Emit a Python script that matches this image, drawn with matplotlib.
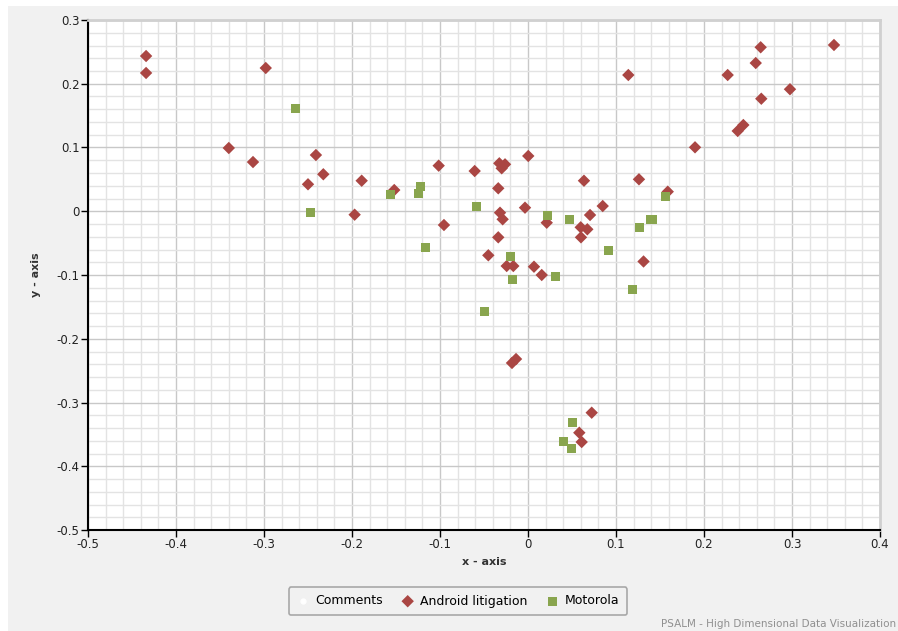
import numpy as np
import matplotlib
import matplotlib.pyplot as plt
from matplotlib.patches import Rectangle
from matplotlib.ticker import MultipleLocator

matplotlib.use("Agg")

# 2D projection coordinates per series
android_x = [-0.434, -0.434, -0.298, -0.340, -0.3125, -0.241, -0.250, -0.2326,
             -0.189, -0.197, -0.152, -0.1015, -0.0955, -0.0606, -0.0326, -0.0261,
             -0.0299, 0.0003, -0.0338, -0.0034, -0.0318, -0.0288, 0.0213, -0.0338,
             -0.0451, -0.0242, -0.0167, 0.0068, 0.0156, -0.0182, -0.0136, 0.0599,
             0.0674, 0.0602, 0.0705, 0.0636, 0.0849, 0.114, 0.1261, 0.1588,
             0.1313, 0.1898, 0.0724, 0.0583, 0.061, 0.2644, 0.3477, 0.2588,
             0.2269, 0.2977, 0.2651, 0.2447, 0.2383]
android_y = [0.2435, 0.2169, 0.2247, 0.0992, 0.0772, 0.0882, 0.0423, 0.058,
             0.0479, -0.0054, 0.0333, 0.0715, -0.0216, 0.0631, 0.0752, 0.0736,
             0.0674, 0.0867, 0.036, 0.0056, -0.0023, -0.0126, -0.018, -0.0409,
             -0.0691, -0.0859, -0.0859, -0.087, -0.1, -0.238, -0.2318, -0.0252,
             -0.0283, -0.0409, -0.0059, 0.0479, 0.0082, 0.2137, 0.0501, 0.0307,
             -0.0788, 0.1003, -0.316, -0.3474, -0.362, 0.2572, 0.2608, 0.2325,
             0.2137, 0.1914, 0.1765, 0.1353, 0.1259]

motorola_x = [-0.264, -0.2477, -0.1568, -0.1219, -0.1242, -0.117, -0.0583, -0.0497,
              -0.0197, -0.0174, 0.0216, 0.0318, 0.0466, 0.092, 0.1265, 0.1394,
              0.1413, 0.1565, 0.119, 0.0503, 0.0401, 0.0489]
motorola_y = [0.1604, -0.0023, 0.026, 0.0385, 0.0275, -0.0576, 0.0071, -0.1576,
              -0.0713, -0.1063, -0.0059, -0.1031, -0.0137, -0.0619, -0.0258, -0.0137,
              -0.0122, 0.0239, -0.1224, -0.3317, -0.3615, -0.3729]

comments_x = []
comments_y = []

RED = "#aa4643"
GREEN = "#89a54e"

fig = plt.figure(figsize=(8.98, 6.31), dpi=100, facecolor="white")

# light gray chart panel behind everything
panel = Rectangle((8 / 898, 0), 1, (631 - 6) / 631, transform=fig.transFigure,
                  facecolor="#f1f1f1", edgecolor="none", zorder=-10)
fig.patches.append(panel)

ax = fig.add_axes([88 / 898, 1 - 530 / 631, (880 - 88) / 898, (530 - 20) / 631])
ax.set_zorder(1)
ax.set_facecolor("white")

ax.scatter(comments_x, comments_y, marker="o", s=12, color="white",
           label="Comments", zorder=3)
ax.scatter(android_x, android_y, marker="D", s=40, color=RED, edgecolors="none",
           label="Android litigation", zorder=3)
ax.scatter(motorola_x, motorola_y, marker="s", s=42, color=GREEN, edgecolors="none",
           label="Motorola", zorder=3)

ax.set_xlim(-0.5, 0.4)
ax.set_ylim(-0.5, 0.3)
ax.xaxis.set_major_locator(MultipleLocator(0.1))
ax.yaxis.set_major_locator(MultipleLocator(0.1))
ax.xaxis.set_minor_locator(MultipleLocator(0.02))
ax.yaxis.set_minor_locator(MultipleLocator(0.02))

fmt = lambda v, pos: "0" if abs(v) < 1e-9 else f"{v:.1f}"
ax.xaxis.set_major_formatter(fmt)
ax.yaxis.set_major_formatter(fmt)

ax.grid(which="major", color="#c8c8c8", linewidth=1.0, zorder=1)
ax.grid(which="minor", color="#e3e3e3", linewidth=1.0, zorder=1)
ax.set_axisbelow(True)

ax.tick_params(which="major", length=5, width=1, color="black",
               labelsize=8.5, labelcolor="#222222", pad=1)
ax.tick_params(which="minor", length=0)

for side in ("left", "bottom"):
    ax.spines[side].set_color("black")
    ax.spines[side].set_linewidth(1.5)
for side in ("top", "right"):
    ax.spines[side].set_color("#d0d0d0")
    ax.spines[side].set_linewidth(2)

ax.set_xlabel("x - axis", fontsize=8, fontweight="bold", color="#333333", labelpad=4)
ax.set_ylabel("y - axis", fontsize=8, fontweight="bold", color="#333333", labelpad=11)

leg = fig.legend(loc="center", bbox_to_anchor=(458 / 898, 1 - 601 / 631), ncol=3,
                 frameon=True, fontsize=9, handletextpad=0.5, columnspacing=1.5,
                 borderpad=0.6, handlelength=1.0, fancybox=True)
frame = leg.get_frame()
frame.set_facecolor("#f1f1f1")
frame.set_edgecolor("#a8a8a8")
frame.set_linewidth(1.2)
frame.set_alpha(1)

fig.text(896 / 898, 1 - 624 / 631, "PSALM - High Dimensional Data Visualization",
         ha="right", va="center", fontsize=7.5, color="#909090")

fig.savefig("out.png", dpi=100, facecolor=fig.get_facecolor())
